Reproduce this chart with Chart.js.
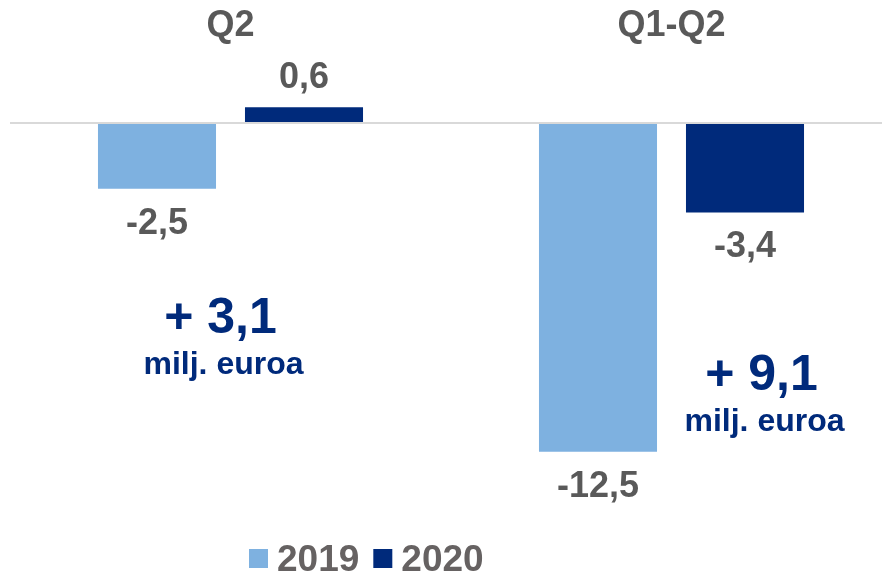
<!DOCTYPE html>
<html>
<head>
<meta charset="utf-8">
<script src="https://cdn.jsdelivr.net/npm/chart.js@4/dist/chart.umd.min.js"></script>
<style>
  html, body { margin: 0; padding: 0; background: #fff; overflow: hidden; width: 882px; height: 572px; }
  #wrap { position: relative; width: 892px; height: 572px; }
</style>
</head>
<body>
<div id="wrap"><canvas id="grafico" width="892" height="572"></canvas></div>
<script>
// Dados do gráfico
const categories = ["Q2", "Q1-Q2"];
const seriesLabels = ["2019", "2020"];
const values2019 = [-2.5, -12.5];
const values2020 = [0.6, -3.4];
const changeLabels = ["+ 3,1", "+ 9,1"];
const unitLabel = "milj. euroa";

// Estilo
const FONTE = '"Liberation Sans", Arial, sans-serif';
const COR_TEXTO = "#595959";
const COR_2019 = "#7EB1E0";
const COR_2020 = "#002A7B";

function formatar(v) {
  return v.toFixed(1).replace(".", ",");
}

// Rótulos de valor em cima / embaixo das barras
const rotulosValores = {
  id: "rotulosValores",
  afterDatasetsDraw(chart) {
    const ctx = chart.ctx;
    ctx.save();
    ctx.font = "bold 36px " + FONTE;
    ctx.fillStyle = COR_TEXTO;
    ctx.textAlign = "center";
    ctx.textBaseline = "alphabetic";
    chart.data.datasets.forEach((ds, i) => {
      chart.getDatasetMeta(i).data.forEach((bar, j) => {
        const v = ds.data[j];
        const y = v >= 0 ? bar.y - 19 : bar.y + 45;
        ctx.fillText(formatar(v), bar.x, y);
      });
    });
    ctx.restore();
  }
};

// Destaques "+ x,x milj. euroa"
const destaques = {
  id: "destaques",
  afterDraw(chart) {
    const { ctx, scales } = chart;
    const zero = scales.y.getPixelForValue(0);
    const desloc = [{ dx: -10, dy: 210 }, { dx: 90, dy: 267 }];
    ctx.save();
    ctx.fillStyle = COR_2020;
    ctx.textAlign = "center";
    ctx.textBaseline = "alphabetic";
    changeLabels.forEach((txt, i) => {
      const cx = scales.x.getPixelForValue(i) + desloc[i].dx;
      const base = zero + desloc[i].dy;
      ctx.font = "bold 50px " + FONTE;
      ctx.fillText(txt, cx, base);
      ctx.font = "bold 32px " + FONTE;
      ctx.fillText(unitLabel, cx + 3, base + 41);
    });
    ctx.restore();
  }
};

// Legenda desenhada à mão (deslocada à esquerda como no original)
const legendaManual = {
  id: "legendaManual",
  afterDraw(chart) {
    const ctx = chart.ctx;
    ctx.save();
    ctx.font = "bold 37px " + FONTE;
    ctx.textBaseline = "alphabetic";
    ctx.textAlign = "left";
    let x = 249;
    chart.data.datasets.forEach(ds => {
      ctx.fillStyle = ds.backgroundColor;
      ctx.fillRect(x, 549, 19, 19);
      ctx.fillStyle = "#666262";
      ctx.fillText(ds.label, x + 28, 571);
      x += 28 + ctx.measureText(ds.label).width + 14;
    });
    ctx.restore();
  }
};

new Chart(document.getElementById("grafico"), {
  type: "bar",
  data: {
    labels: categories,
    datasets: [
      { label: seriesLabels[0], data: values2019, backgroundColor: COR_2019 },
      { label: seriesLabels[1], data: values2020, backgroundColor: COR_2020 }
    ]
  },
  options: {
    responsive: false,
    animation: false,
    categoryPercentage: 0.6667,
    barPercentage: 0.803,
    layout: { padding: { left: 10, right: 0, top: 6, bottom: 94 } },
    plugins: {
      legend: { display: false },
      tooltip: { enabled: false }
    },
    scales: {
      x: {
        position: "top",
        grid: { display: false, drawTicks: false },
        border: { display: false },
        afterFit: s => { s.height = 85.4; },
        ticks: {
          padding: 44,
          color: COR_TEXTO,
          font: { family: FONTE, size: 36, weight: "bold" }
        }
      },
      y: {
        min: -13.5,
        max: 1.2,
        grid: {
          drawTicks: false,
          lineWidth: 2,
          color: c => (c.tick && c.tick.value === 0 ? "#D9D9D9" : "rgba(0,0,0,0)")
        },
        border: { display: false },
        ticks: { display: false, stepSize: 1 }
      }
    }
  },
  plugins: [rotulosValores, destaques, legendaManual]
});
</script>
</body>
</html>
